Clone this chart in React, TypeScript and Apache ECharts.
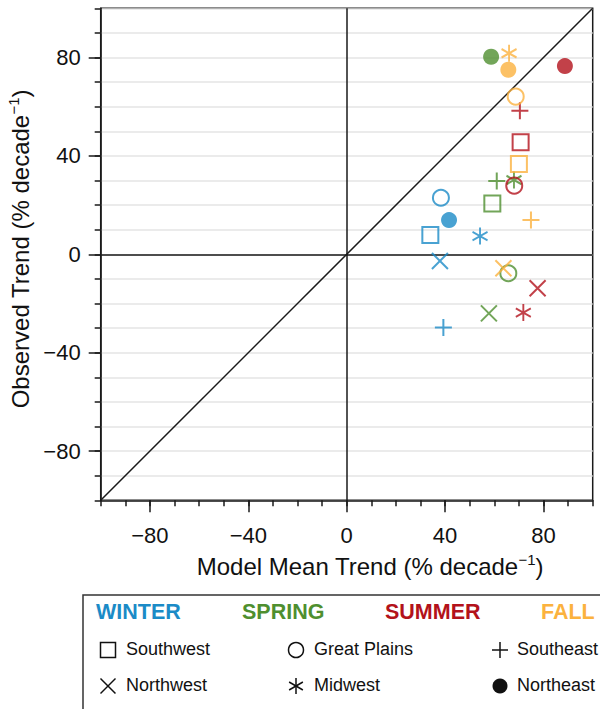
import React, { useEffect, useRef } from "react";
import * as echarts from "echarts";

const FONT = "'Liberation Sans', Arial, Helvetica, sans-serif";

// Regions (marker shape) and seasons (colour)
const regions = ["Southwest", "Great Plains", "Southeast", "Northwest", "Midwest", "Northeast"];
const seasons = ["WINTER", "SPRING", "SUMMER", "FALL"];
const seasonColors = ["#1b8bc7", "#4f8f2f", "#b3121b", "#fbb23e"];

// Model mean trend (x) and observed trend (y), % decade^-1, in region order
const winterModel = [34.0, 38.3, 39.3, 37.9, 54.2, 41.6];
const winterObserved = [7.8, 23.0, -29.8, -2.7, 7.4, 13.9];
const springModel = [59.2, 65.7, 61.0, 57.8, 68.0, 58.7];
const springObserved = [20.7, -7.7, 29.8, -24.0, 30.2, 80.3];
const summerModel = [70.7, 68.1, 70.4, 77.6, 71.8, 88.7];
const summerObserved = [45.5, 27.9, 58.4, -13.8, -23.7, 76.5];
const fallModel = [70.0, 68.7, 74.9, 63.7, 66.0, 65.7];
const fallObserved = [36.7, 64.1, 13.9, -5.7, 81.7, 75.0];

const modelBySeason = [winterModel, springModel, summerModel, fallModel];
const observedBySeason = [winterObserved, springObserved, summerObserved, fallObserved];

// Axis range and labelled ticks
const axisMin = -100;
const axisMax = 100;
const minorStep = 10;
const majorTicks = [-80, -40, 0, 40, 80];
const oneToOne = [
  [axisMin, axisMin],
  [axisMax, axisMax],
];

const PLUS = "path://M5 0L5 10M0 5L10 5";
const CROSS = "path://M0 0L10 10M10 0L0 10";
const STAR = "path://M5 0L5 10M0.67 2.5L9.33 7.5M0.67 7.5L9.33 2.5";

const markerFor = (region: string, color: string) => {
  const hollow = { color: "rgba(0,0,0,0)", borderColor: color, borderWidth: 2 };
  switch (region) {
    case "Southwest":
      return { symbol: "rect", symbolSize: 16, itemStyle: hollow };
    case "Great Plains":
      return { symbol: "circle", symbolSize: 16, itemStyle: hollow };
    case "Southeast":
      return { symbol: PLUS, symbolSize: 17, itemStyle: hollow };
    case "Northwest":
      return { symbol: CROSS, symbolSize: 16, itemStyle: hollow };
    case "Midwest":
      return { symbol: STAR, symbolSize: [15, 17], itemStyle: hollow };
    default:
      return { symbol: "circle", symbolSize: 16, itemStyle: { color, borderWidth: 0 } };
  }
};

const fmt = (v: number) => (v < 0 ? "\u2212" + Math.abs(v) : String(v));

const AXIS_COLOR = "#1a1a1a";
const TEXT_COLOR = "#111";

export default function App() {
  const ref = useRef<HTMLDivElement>(null);

  useEffect(() => {
    if (!ref.current) return;
    const chart = echarts.init(ref.current, null, { renderer: "svg" });

    const seasonSeries = seasons.map((name, s) => ({
      type: "scatter",
      name,
      xAxisIndex: 0,
      yAxisIndex: 0,
      z: 5,
      data: regions.map((region, r) => ({
        name: region,
        value: [modelBySeason[s][r], observedBySeason[s][r]],
        ...markerFor(region, seasonColors[s]),
      })),
    }));

    const axisCommon = {
      type: "value",
      min: axisMin,
      max: axisMax,
      interval: minorStep,
    };

    const rich = (size: number) => ({
      a: { fontSize: size, fontFamily: FONT, fill: TEXT_COLOR, lineHeight: size + 4 },
      s: { fontSize: 15, fontFamily: FONT, fill: TEXT_COLOR, lineHeight: 15, verticalAlign: "top" },
    });

    const legendRowY = [650, 686];
    const legendColX = [108, 296, 500];
    const legendTextX = [126, 314, 517];
    const legendHeaderX = [96, 242, 385, 541];
    const K = "#111";

    const graphic: any[] = [
      // axis titles
      {
        type: "text",
        x: 370,
        y: 566,
        style: {
          text: "{a|Model Mean Trend (% decade}{s|\u22121}{a|)}",
          rich: rich(24),
          align: "center",
          verticalAlign: "middle",
        },
      },
      {
        type: "text",
        x: 20,
        y: 249,
        rotation: Math.PI / 2,
        style: {
          text: "{a|Observed Trend (% decade}{s|\u22121}{a|)}",
          rich: rich(24),
          align: "center",
          verticalAlign: "middle",
        },
      },
      // legend frame
      {
        type: "rect",
        shape: { x: 83, y: 595, width: 560, height: 160 },
        style: { fill: "none", stroke: "#333", lineWidth: 1.5 },
      },
      ...seasons.map((s, i) => ({
        type: "text",
        x: legendHeaderX[i],
        y: 612,
        style: {
          text: s,
          fontFamily: FONT,
          fontWeight: "bold",
          fontSize: 21.5,
          fill: seasonColors[i],
          align: "left",
          verticalAlign: "middle",
        },
      })),
      ...regions.map((r, i) => ({
        type: "text",
        x: legendTextX[i % 3],
        y: legendRowY[Math.floor(i / 3)] - 1,
        style: {
          text: r,
          fontFamily: FONT,
          fontSize: 18,
          fill: TEXT_COLOR,
          align: "left",
          verticalAlign: "middle",
        },
      })),
      // legend glyphs
      {
        type: "rect",
        shape: { x: legendColX[0] - 7.5, y: legendRowY[0] - 7.5, width: 15, height: 15 },
        style: { fill: "none", stroke: K, lineWidth: 1.5 },
      },
      {
        type: "circle",
        shape: { cx: legendColX[1], cy: legendRowY[0], r: 7.5 },
        style: { fill: "none", stroke: K, lineWidth: 1.5 },
      },
      {
        type: "line",
        shape: { x1: legendColX[2] - 8, y1: legendRowY[0], x2: legendColX[2] + 8, y2: legendRowY[0] },
        style: { stroke: K, lineWidth: 1.5 },
      },
      {
        type: "line",
        shape: { x1: legendColX[2], y1: legendRowY[0] - 8, x2: legendColX[2], y2: legendRowY[0] + 8 },
        style: { stroke: K, lineWidth: 1.5 },
      },
      {
        type: "line",
        shape: { x1: legendColX[0] - 7.5, y1: legendRowY[1] - 7.5, x2: legendColX[0] + 7.5, y2: legendRowY[1] + 7.5 },
        style: { stroke: K, lineWidth: 1.5 },
      },
      {
        type: "line",
        shape: { x1: legendColX[0] + 7.5, y1: legendRowY[1] - 7.5, x2: legendColX[0] - 7.5, y2: legendRowY[1] + 7.5 },
        style: { stroke: K, lineWidth: 1.5 },
      },
      {
        type: "line",
        shape: { x1: legendColX[1], y1: legendRowY[1] - 8, x2: legendColX[1], y2: legendRowY[1] + 8 },
        style: { stroke: K, lineWidth: 1.5 },
      },
      {
        type: "line",
        shape: { x1: legendColX[1] - 6.9, y1: legendRowY[1] - 4, x2: legendColX[1] + 6.9, y2: legendRowY[1] + 4 },
        style: { stroke: K, lineWidth: 1.5 },
      },
      {
        type: "line",
        shape: { x1: legendColX[1] - 6.9, y1: legendRowY[1] + 4, x2: legendColX[1] + 6.9, y2: legendRowY[1] - 4 },
        style: { stroke: K, lineWidth: 1.5 },
      },
      {
        type: "circle",
        shape: { cx: legendColX[2], cy: legendRowY[1], r: 7.5 },
        style: { fill: K },
      },
    ];

    const option: any = {
      animation: false,
      grid: {
        left: 100.7,
        top: 8.3,
        width: 492,
        height: 492,
        show: true,
        borderColor: AXIS_COLOR,
        borderWidth: 1.5,
        backgroundColor: "transparent",
      },
      xAxis: [
        {
          ...axisCommon,
          position: "bottom",
          axisLine: { onZero: false, lineStyle: { color: AXIS_COLOR, width: 1.5 } },
          axisTick: { length: 6, lineStyle: { color: AXIS_COLOR, width: 1.5 } },
          axisLabel: {
            customValues: majorTicks,
            formatter: fmt,
            fontSize: 22,
            fontFamily: FONT,
            color: TEXT_COLOR,
            margin: 24,
          },
          splitLine: { show: false },
        },
        {
          ...axisCommon,
          position: "bottom",
          axisLine: { show: false, onZero: false },
          axisTick: { customValues: majorTicks, length: 12, lineStyle: { color: AXIS_COLOR, width: 1.5 } },
          axisLabel: { show: false },
          splitLine: { show: false },
        },
      ],
      yAxis: [
        {
          ...axisCommon,
          position: "left",
          axisLine: { onZero: false, lineStyle: { color: AXIS_COLOR, width: 1.5 } },
          axisTick: { length: 6, lineStyle: { color: AXIS_COLOR, width: 1.5 } },
          axisLabel: {
            customValues: majorTicks,
            formatter: fmt,
            fontSize: 22,
            fontFamily: FONT,
            color: TEXT_COLOR,
            margin: 20,
          },
          splitLine: { show: true, lineStyle: { color: "#e4e4e4", width: 1.5 } },
        },
        {
          ...axisCommon,
          position: "left",
          axisLine: { show: false, onZero: false },
          axisTick: { customValues: majorTicks, length: 12, lineStyle: { color: AXIS_COLOR, width: 1.5 } },
          axisLabel: { show: false },
          splitLine: { show: false },
        },
      ],
      series: [
        {
          type: "line",
          name: "1:1",
          data: oneToOne,
          xAxisIndex: 0,
          yAxisIndex: 0,
          symbol: "none",
          silent: true,
          z: 3,
          lineStyle: { color: AXIS_COLOR, width: 1.5 },
          markLine: {
            silent: true,
            symbol: ["none", "none"],
            label: { show: false },
            lineStyle: { color: AXIS_COLOR, width: 1.5, type: "solid" },
            data: [{ xAxis: 0 }, { yAxis: 0 }],
          },
        },
        ...seasonSeries,
      ],
      graphic,
    };

    chart.setOption(option);
    return () => chart.dispose();
  }, []);

  return (
    <div
      ref={ref}
      style={{ position: "fixed", left: 0, top: 0, width: 600, height: 709, background: "#fff" }}
    />
  );
}
